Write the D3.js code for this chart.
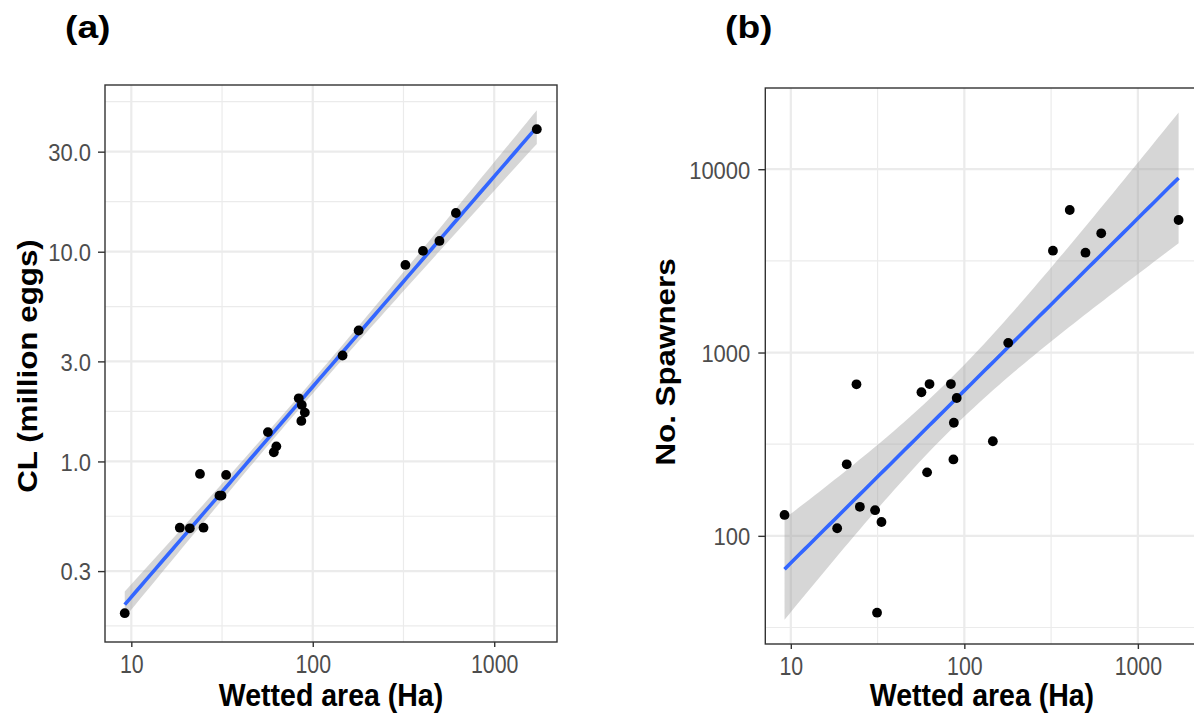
<!DOCTYPE html>
<html><head><meta charset="utf-8">
<script src="https://cdn.jsdelivr.net/npm/d3@7"></script>
<style>body{margin:0;background:#fff} svg{display:block}</style>
</head><body>
<svg id="c" width="1194" height="715"></svg>
<script>
// ---- data ----
const area = [1717, 615, 499, 405, 324, 179, 146, 83.7, 87, 90.4, 86.5, 56.6, 63, 61, 23.9, 33.3, 30.6, 31.4, 18.5, 21, 25, 9.2];
const cl = [38.4, 15.3, 11.26, 10.09, 8.65, 4.21, 3.20, 2.00, 1.86, 1.71, 1.56, 1.38, 1.18, 1.106, 0.872, 0.862, 0.687, 0.687, 0.483, 0.480, 0.483, 0.189];
const spawners = [5284, 4470, 3504, 5990, 3594, 1129, 328, 673, 414, 565, 261, 607, 673, 222, 671, 119, 138, 38.1, 110, 245.6, 144, 130];
const xTicks = [10, 100, 1000];
const xTickLabels = ["10", "100", "1000"];
const yTicksA = [0.3, 1, 3, 10, 30];
const yTickLabelsA = ["0.3", "1.0", "3.0", "10.0", "30.0"];
const yTicksB = [100, 1000, 10000];
const yTickLabelsB = ["100", "1000", "10000"];
const panelLabels = ["(a)", "(b)"];
const xTitle = "Wetted area (Ha)";
const yTitles = ["CL (million eggs)", "No. Spawners"];
const xDomainA = [Math.pow(10, 0.855), Math.pow(10, 3.346)];
const yDomainA = [Math.pow(10, -0.861), Math.pow(10, 1.795)];
const xDomainB = [Math.pow(10, 0.853), Math.pow(10, 3.35)];
const yDomainB = [Math.pow(10, 1.41), Math.pow(10, 4.443)];
const tCrit = 2.086; // t(0.975, df = 20)

const svg = d3.select("#c");
const FONT = "'Liberation Sans', Arial, sans-serif";

function lmFit(xs, ys) {
  const lx = xs.map(Math.log10), ly = ys.map(Math.log10);
  const n = lx.length;
  const mx = d3.mean(lx), my = d3.mean(ly);
  let sxx = 0, sxy = 0;
  for (let i = 0; i < n; i++) { sxx += (lx[i]-mx)**2; sxy += (lx[i]-mx)*(ly[i]-my); }
  const b = sxy / sxx, a = my - b*mx;
  let sse = 0;
  for (let i = 0; i < n; i++) sse += (ly[i] - (a + b*lx[i]))**2;
  const s = Math.sqrt(sse / (n - 2));
  const lo = d3.min(lx), hi = d3.max(lx);
  return d3.range(80).map(k => {
    const x = lo + (hi - lo) * k / 79;
    const yh = a + b*x;
    const se = s * Math.sqrt(1/n + (x-mx)**2 / sxx);
    return {x: Math.pow(10, x), y: Math.pow(10, yh), ylo: Math.pow(10, yh - tCrit*se), yhi: Math.pow(10, yh + tCrit*se)};
  });
}

function minorBreaks(majors) {
  const l = majors.map(Math.log10);
  const out = [];
  const step0 = l[1]-l[0], stepN = l[l.length-1]-l[l.length-2];
  out.push(l[0] - step0/2);
  for (let i = 0; i < l.length-1; i++) out.push((l[i]+l[i+1])/2);
  out.push(l[l.length-1] + stepN/2);
  return out.map(v => Math.pow(10, v));
}

const panels = [
  {ys: cl, x0: 105, x1: 557, y0: 85, y1: 642, xd: xDomainA, yd: yDomainA, yt: yTicksA, ytl: yTickLabelsA,
   label: panelLabels[0], lx: 65, ytitle: yTitles[0], ytx: 36.7, yty: 366, ylabOff: -14},
  {ys: spawners, x0: 765.3, x1: 1198.6, y0: 88, y1: 644, xd: xDomainB, yd: yDomainB, yt: yTicksB, ytl: yTickLabelsB,
   label: panelLabels[1], lx: 725, ytitle: yTitles[1], ytx: 675, yty: 362, ylabOff: -15}
];

panels.forEach(p => {
  const x = d3.scaleLog().domain(p.xd).range([p.x0, p.x1]);
  const y = d3.scaleLog().domain(p.yd).range([p.y1, p.y0]);
  const g = svg.append("g");
  const clipId = "clip" + p.label.replace(/\W/g, "");
  svg.append("clipPath").attr("id", clipId).append("rect")
    .attr("x", p.x0).attr("y", p.y0).attr("width", p.x1 - p.x0).attr("height", p.y1 - p.y0);
  const pg = g.append("g").attr("clip-path", `url(#${clipId})`);

  // grid
  const mx = minorBreaks(xTicks), my = minorBreaks(p.yt);
  pg.selectAll(".mx").data(mx).join("line")
    .attr("x1", d => x(d)).attr("x2", d => x(d)).attr("y1", p.y0).attr("y2", p.y1)
    .attr("stroke", "#EBEBEB").attr("stroke-width", 1.2);
  pg.selectAll(".my").data(my).join("line")
    .attr("y1", d => y(d)).attr("y2", d => y(d)).attr("x1", p.x0).attr("x2", p.x1)
    .attr("stroke", "#EBEBEB").attr("stroke-width", 1.2);
  pg.selectAll(".gx").data(xTicks).join("line")
    .attr("x1", d => x(d)).attr("x2", d => x(d)).attr("y1", p.y0).attr("y2", p.y1)
    .attr("stroke", "#EBEBEB").attr("stroke-width", 2.2);
  pg.selectAll(".gy").data(p.yt).join("line")
    .attr("y1", d => y(d)).attr("y2", d => y(d)).attr("x1", p.x0).attr("x2", p.x1)
    .attr("stroke", "#EBEBEB").attr("stroke-width", 2.2);

  // smooth
  const fit = lmFit(area, p.ys);
  pg.append("path").datum(fit)
    .attr("d", d3.area().x(d => x(d.x)).y0(d => y(d.ylo)).y1(d => y(d.yhi)))
    .attr("fill", "#999999").attr("fill-opacity", 0.4);
  pg.append("path").datum(fit)
    .attr("d", d3.line().x(d => x(d.x)).y(d => y(d.y)))
    .attr("fill", "none").attr("stroke", "#3366FF").attr("stroke-width", 3.6);

  // points
  pg.selectAll("circle").data(area.map((a, i) => [a, p.ys[i]])).join("circle")
    .attr("cx", d => x(d[0])).attr("cy", d => y(d[1])).attr("r", 4.9).attr("fill", "#000");

  // border
  g.append("rect").attr("x", p.x0).attr("y", p.y0).attr("width", p.x1 - p.x0).attr("height", p.y1 - p.y0)
    .attr("fill", "none").attr("stroke", "#333333").attr("stroke-width", 1.4);

  // axes
  const ax = g.append("g").attr("transform", `translate(0,${p.y1})`)
    .call(d3.axisBottom(x).tickValues(xTicks).tickFormat((d, i) => xTickLabels[i]).tickSize(5).tickSizeOuter(0));
  ax.select(".domain").remove();
  ax.selectAll(".tick line").attr("stroke", "#333333").attr("stroke-width", 1.4);
  ax.selectAll(".tick text").attr("y", null).attr("dy", null)
    .attr("transform", "translate(0,31) scale(0.97,1.13)")
    .attr("fill", "#4D4D4D").style("font-family", FONT).style("font-size", "22px");

  const ay = g.append("g").attr("transform", `translate(${p.x0},0)`)
    .call(d3.axisLeft(y).tickValues(p.yt).tickFormat((d, i) => p.ytl[i]).tickSize(7).tickSizeOuter(0));
  ay.select(".domain").remove();
  ay.selectAll(".tick line").attr("stroke", "#333333").attr("stroke-width", 1.4);
  ay.selectAll(".tick text").attr("x", null).attr("dy", "0.36em")
    .attr("transform", `translate(${p.ylabOff},0) scale(1,1.12)`)
    .attr("text-anchor", "end")
    .attr("fill", "#4D4D4D").style("font-family", FONT).style("font-size", "22px");

  // titles
  g.append("text").text(xTitle)
    .attr("transform", `translate(${(p.x0 + p.x1) / 2},706) scale(1,1.08)`)
    .attr("text-anchor", "middle").style("font-family", FONT).style("font-size", "28.5px").style("font-weight", "bold");
  g.append("text").text(p.ytitle)
    .attr("transform", `translate(${p.ytx},${p.yty}) scale(1,1.1) rotate(-90)`)
    .attr("text-anchor", "middle").style("font-family", FONT).style("font-size", "28.5px").style("font-weight", "bold");
  g.append("text").text(p.label)
    .attr("transform", `translate(${p.lx},38) scale(1.2,1)`)
    .style("font-family", FONT).style("font-size", "31px").style("font-weight", "bold");
});
</script>
</body></html>
